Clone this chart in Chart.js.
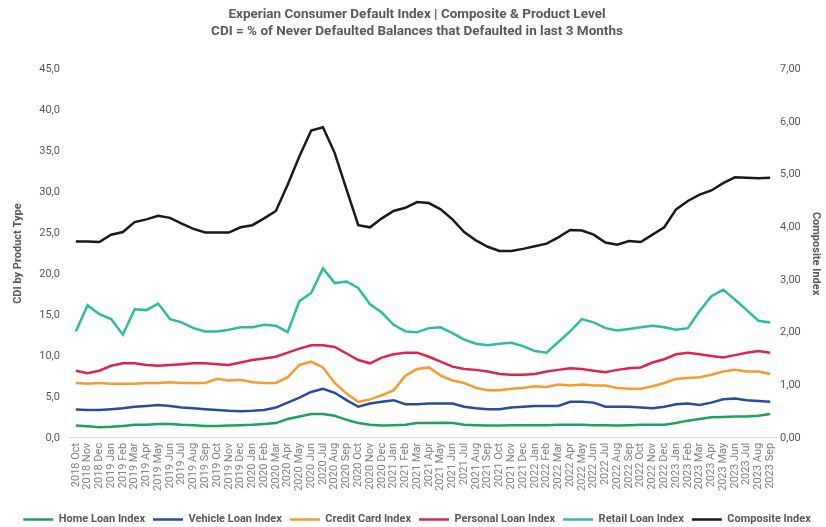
<!DOCTYPE html>
<html>
<head>
<meta charset="utf-8">
<script src="https://cdn.jsdelivr.net/npm/chart.js@4"></script>
<style>
  html, body { margin: 0; padding: 0; background: #fff; }
  #wrap { width: 826px; height: 527px; }
</style>
</head>
<body>
<div id="wrap"><canvas id="chart"></canvas></div>
<script>
// months 2018 Oct .. 2023 Sep
const months = ['Oct','Nov','Dec','Jan','Feb','Mar','Apr','May','Jun','Jul','Aug','Sep'];
const labels = [];
for (let i = 0; i < 60; i++) {
  const year = 2018 + Math.floor((i + 9) / 12);
  labels.push(year + ' ' + months[i % 12]);
}

const homeLoan = [1.5,1.4,1.3,1.35,1.45,1.6,1.6,1.7,1.7,1.6,1.55,1.45,1.45,1.5,1.55,1.6,1.7,1.8,2.3,2.6,2.9,2.9,2.7,2.2,1.8,1.6,1.5,1.55,1.6,1.8,
                  1.8,1.85,1.8,1.6,1.55,1.5,1.5,1.55,1.55,1.55,1.55,1.6,1.6,1.6,1.55,1.55,1.5,1.55,1.6,1.6,1.6,1.8,2.1,2.3,2.5,2.55,2.6,2.6,2.7,2.9];
const vehicleLoan = [3.45,3.4,3.4,3.5,3.6,3.8,3.9,4.0,3.9,3.7,3.6,3.5,3.4,3.3,3.25,3.3,3.4,3.7,4.3,4.9,5.6,6.0,5.5,4.6,3.8,4.2,4.4,4.6,4.1,4.1,
                     4.2,4.2,4.2,3.8,3.6,3.5,3.5,3.7,3.8,3.9,3.9,3.9,4.4,4.4,4.3,3.8,3.8,3.8,3.7,3.6,3.8,4.1,4.2,4.0,4.3,4.7,4.8,4.6,4.5,4.4];
const creditCard = [6.7,6.6,6.7,6.6,6.6,6.6,6.7,6.7,6.8,6.7,6.7,6.7,7.2,7.0,7.1,6.8,6.7,6.7,7.4,8.9,9.3,8.6,6.7,5.4,4.4,4.7,5.2,5.8,7.6,8.4,
                    8.6,7.6,7.0,6.7,6.1,5.8,5.8,6.0,6.1,6.3,6.2,6.5,6.4,6.5,6.4,6.4,6.1,6.0,6.0,6.3,6.7,7.2,7.3,7.4,7.7,8.1,8.3,8.1,8.1,7.8];
const personalLoan = [8.2,7.9,8.2,8.8,9.1,9.1,8.9,8.8,8.9,9.0,9.1,9.1,9.0,8.9,9.2,9.5,9.7,9.9,10.4,10.9,11.3,11.3,11.1,10.3,9.5,9.1,9.8,10.2,10.4,10.4,
                      9.9,9.3,8.7,8.4,8.3,8.1,7.8,7.7,7.7,7.8,8.1,8.3,8.5,8.4,8.2,8.0,8.3,8.5,8.6,9.2,9.6,10.2,10.4,10.2,10.0,9.8,10.1,10.4,10.6,10.4];
const retailLoan = [13.0,16.2,15.1,14.5,12.6,15.7,15.6,16.4,14.5,14.1,13.4,13.0,13.0,13.2,13.5,13.5,13.8,13.7,12.9,16.7,17.7,20.7,18.9,19.1,18.3,16.3,15.3,13.8,13.0,12.9,
                    13.4,13.5,12.8,12.0,11.5,11.3,11.5,11.6,11.2,10.6,10.4,11.7,13.0,14.5,14.1,13.4,13.1,13.3,13.5,13.7,13.5,13.2,13.4,15.5,17.3,18.1,16.9,15.6,14.3,14.1];
const composite = [3.73,3.73,3.72,3.86,3.91,4.10,4.15,4.22,4.18,4.07,3.97,3.90,3.90,3.90,4.00,4.04,4.17,4.31,4.81,5.35,5.84,5.90,5.41,4.72,4.04,4.00,4.17,4.31,4.37,4.48,
                   4.46,4.34,4.15,3.91,3.75,3.63,3.55,3.55,3.59,3.64,3.69,3.81,3.95,3.94,3.86,3.71,3.67,3.74,3.72,3.86,4.00,4.34,4.50,4.62,4.70,4.84,4.95,4.94,4.93,4.94];

const titleLines = ['Experian Consumer Default Index | Composite & Product Level',
                    'CDI = % of Never Defaulted Balances that Defaulted in last 3 Months'];

const grey = '#595959';
const fontFam = 'Roboto, "Liberation Sans", sans-serif';

function line(label, data, color, axis) {
  return {
    label: label,
    data: data,
    borderColor: color,
    backgroundColor: color,
    borderWidth: 2.5,
    pointRadius: 0,
    tension: 0,
    yAxisID: axis
  };
}

// push the legend a bit lower than chart.js would put it
const legendShift = {
  id: 'legendShift',
  beforeInit(chart) {
    const fit = chart.legend.fit;
    chart.legend.fit = function () {
      fit.call(this);
      this.height -= 8;
    };
  }
};

new Chart(document.getElementById('chart').getContext('2d'), {
  type: 'line',
  data: {
    labels: labels,
    datasets: [
      line('Home Loan Index', homeLoan, '#1fa15e', 'y'),
      line('Vehicle Loan Index', vehicleLoan, '#2b4c9b', 'y'),
      line('Credit Card Index', creditCard, '#f59b2f', 'y'),
      line('Personal Loan Index', personalLoan, '#de2350', 'y'),
      line('Retail Loan Index', retailLoan, '#2bbca3', 'y'),
      line('Composite Index', composite, '#1a1a1a', 'y1')
    ]
  },
  plugins: [legendShift],
  options: {
    responsive: true,
    maintainAspectRatio: false,
    animation: false,
    layout: { padding: { left: 8, right: 0, top: 4, bottom: 0 } },
    plugins: {
      title: {
        display: true,
        text: titleLines,
        color: grey,
        font: { family: fontFam, size: 13.5, weight: 'bold' },
        padding: { top: 3, bottom: 30 },
        lineHeight: 1.4
      },
      legend: {
        position: 'bottom',
        labels: {
          usePointStyle: true,
          pointStyle: 'line',
          pointStyleWidth: 30,
          color: grey,
          font: { family: fontFam, size: 11, weight: 'bold' },
          padding: 8
        }
      },
      tooltip: { enabled: false }
    },
    scales: {
      x: {
        offset: true,
        grid: { display: false, drawTicks: false },
        border: { color: '#d9d9d9' },
        afterFit: s => { s.height += 10; },
        ticks: {
          autoSkip: false,
          maxRotation: 90,
          minRotation: 90,
          color: '#808080',
          font: { family: fontFam, size: 11 },
          padding: 5
        }
      },
      y: {
        position: 'left',
        min: 0,
        max: 45,
        grid: { display: false, drawTicks: false },
        border: { display: false },
        ticks: {
          stepSize: 5,
          color: grey,
          font: { family: fontFam, size: 11 },
          padding: 10,
          callback: v => v.toFixed(1).replace('.', ',')
        },
        title: {
          display: true,
          text: 'CDI by Product Type',
          color: grey,
          font: { family: fontFam, size: 11, weight: 'bold' }
        }
      },
      y1: {
        position: 'right',
        min: 0,
        max: 7,
        grid: { display: false, drawTicks: false },
        border: { display: false },
        ticks: {
          stepSize: 1,
          color: grey,
          font: { family: fontFam, size: 11 },
          padding: 4,
          callback: v => v.toFixed(2).replace('.', ',')
        },
        title: {
          display: true,
          text: 'Composite Index',
          color: grey,
          font: { family: fontFam, size: 11, weight: 'bold' }
        }
      }
    }
  }
});
</script>
</body>
</html>
